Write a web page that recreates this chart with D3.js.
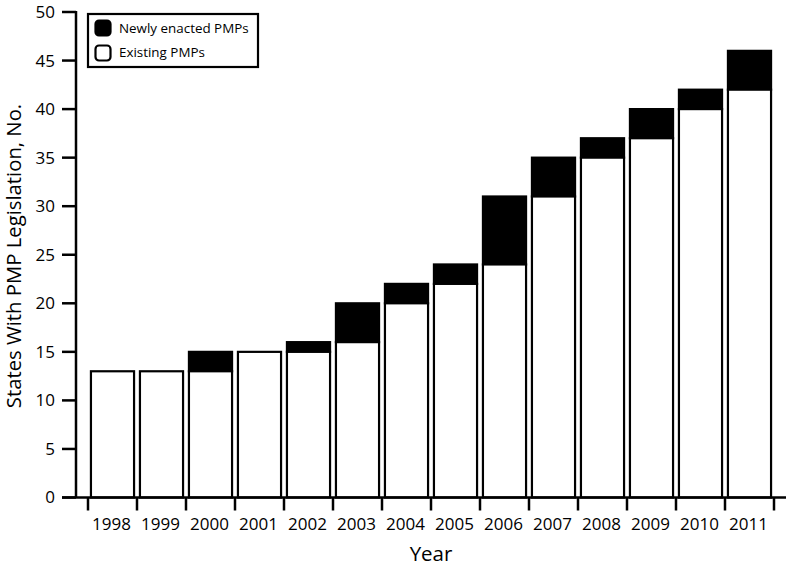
<!DOCTYPE html>
<html><head><meta charset="utf-8">
<script src="https://cdn.jsdelivr.net/npm/d3@7"></script>
<style>body{margin:0;background:#fff}svg{display:block}text{font-family:"Open Sans",sans-serif;fill:#000}</style>
</head><body><svg id="c" width="790" height="568"></svg>
<script>
const years = ["1998","1999","2000","2001","2002","2003","2004","2005","2006","2007","2008","2009","2010","2011"];
const existing = [13,13,13,15,15,16,20,22,24,31,35,37,40,42];
const newlyEnacted = [0,0,2,0,1,4,2,2,7,4,2,3,2,4];
const yTicks = [0,5,10,15,20,25,30,35,40,45,50];
const legendLabels = ["Newly enacted PMPs","Existing PMPs"];

const svg = d3.select("#c");
const x = d3.scaleBand().domain(years).range([88,774]).paddingInner(0.12).paddingOuter(0.06);
const y = d3.scaleLinear().domain([0,50]).range([497.5,12]);
const axisX0 = 76;

// bars
const g = svg.append("g");
years.forEach((yr,i)=>{
  const e = existing[i], n = newlyEnacted[i];
  if(n>0){
    g.append("rect").attr("x",x(yr)).attr("width",x.bandwidth())
      .attr("y",y(e+n)).attr("height",y(e)-y(e+n))
      .attr("fill","#000").attr("stroke","#000").attr("stroke-width",2.2);
  }
  g.append("rect").attr("x",x(yr)).attr("width",x.bandwidth())
    .attr("y",y(e)).attr("height",y(0)-y(e))
    .attr("fill","#fff").attr("stroke","#000").attr("stroke-width",2.2);
});

// y axis
const ya = svg.append("g");
ya.append("line").attr("x1",axisX0).attr("x2",axisX0).attr("y1",y(50)-1).attr("y2",y(0)).attr("stroke","#000").attr("stroke-width",2.5);
yTicks.forEach(t=>{
  ya.append("line").attr("x1",62).attr("x2",axisX0).attr("y1",y(t)).attr("y2",y(t)).attr("stroke","#000").attr("stroke-width",2.5);
  ya.append("text").attr("x",55).attr("y",y(t)).attr("dy","0.35em").attr("text-anchor","end").attr("font-size",17).text(t);
});

// x axis
const xa = svg.append("g");
xa.append("line").attr("x1",62).attr("x2",786).attr("y1",y(0)).attr("y2",y(0)).attr("stroke","#000").attr("stroke-width",2.5);
for(let i=0;i<=years.length;i++){
  const tx = x.range()[0] + i*x.step();
  xa.append("line").attr("x1",tx).attr("x2",tx).attr("y1",y(0)).attr("y2",y(0)+13).attr("stroke","#000").attr("stroke-width",2.5);
}
years.forEach(yr=>{
  xa.append("text").attr("x",x(yr)+x.bandwidth()/2-1).attr("y",530).attr("text-anchor","middle").attr("font-size",17).text(yr);
});

// axis titles
svg.append("text").attr("x",431).attr("y",561).attr("text-anchor","middle").attr("font-size",20.5).text("Year");
svg.append("text").attr("transform","translate(21,256) rotate(-90)").attr("text-anchor","middle").attr("font-size",20.3).text("States With PMP Legislation, No.");

// legend
const lg = svg.append("g");
lg.append("rect").attr("x",88).attr("y",14).attr("width",170).attr("height",53).attr("fill","#fff").attr("stroke","#000").attr("stroke-width",2.2);
[["#000",0],["#fff",1]].forEach(([f,i])=>{
  lg.append("rect").attr("x",95.5).attr("y",20.5+i*25).attr("width",15).attr("height",15).attr("rx",3.5)
    .attr("fill",f).attr("stroke","#000").attr("stroke-width",2.2);
  lg.append("text").attr("x",119).attr("y",33+i*24).attr("font-size",13.4).text(legendLabels[i]);
});
</script></body></html>
